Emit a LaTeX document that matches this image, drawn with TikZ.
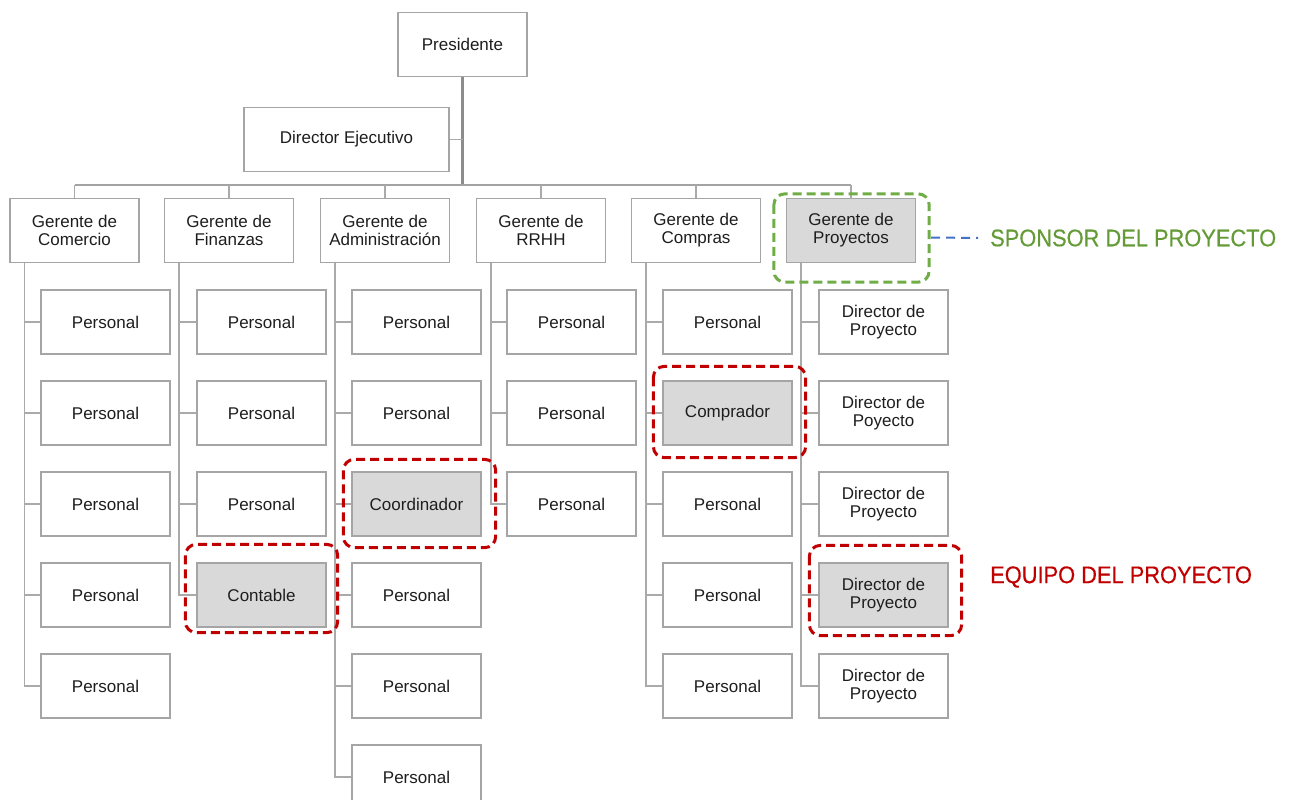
\documentclass[tikz,border=0pt]{standalone}
\usepackage{fontspec}
\usepackage{graphicx}
\setmainfont{Liberation Sans}
\newfontfamily\lblfont[FakeBold=0.5]{Liberation Sans}
\usetikzlibrary{calc}
\definecolor{boxline}{RGB}{165,165,165}
\definecolor{trunk}{RGB}{140,140,140}
\definecolor{linecol}{RGB}{170,170,170}
\definecolor{hifill}{RGB}{217,217,217}
\definecolor{redc}{RGB}{192,0,0}
\definecolor{greenc}{RGB}{112,173,71}
\definecolor{greentext}{RGB}{100,155,55}
\definecolor{bluec}{RGB}{68,114,196}
\definecolor{txt}{RGB}{30,30,30}
\begin{document}
\begin{tikzpicture}[x=1pt,y=-1pt,
  box/.style={draw=boxline, line width=1.3pt, fill=white, minimum width=129pt, minimum height=64pt,
    inner sep=0pt, align=center, text=txt, font=\fontsize{17}{18}\selectfont},
  hibox/.style={box, fill=hifill},
  trunkln/.style={draw=trunk, line width=2.8pt},
  barln/.style={draw=trunk!80, line width=2.2pt},
  ln/.style={draw=linecol, line width=1.4pt},
  redhl/.style={draw=redc, line width=3pt, dash pattern=on 9pt off 5pt, rounded corners=11pt},
  greenhl/.style={draw=greenc, line width=3pt, dash pattern=on 9pt off 5pt, rounded corners=11pt},
  bluedash/.style={draw=bluec, line width=2pt, dash pattern=on 9pt off 6pt},
  lbl/.style={anchor=west, inner sep=0pt, font=\lblfont\fontsize{24}{26}\selectfont}
]
\useasboundingbox (0,0) rectangle (1296,800);

% top
\node[box] (pres) at (462.5,44.5) {Presidente};
\node[box, minimum width=205pt] (dir) at (346.5,139.5) {Director Ejecutivo};
\coordinate (bar) at (463,185);

% managers
\node[box] (m1) at (74.5,230.5) {Gerente de\\Comercio};
\node[box] (m2) at (229,230.5) {Gerente de\\Finanzas};
\node[box] (m3) at (385,230.5) {Gerente de\\Administración};
\node[box] (m4) at (541,230.5) {Gerente de\\RRHH};
\node[box] (m5) at (696,230.5) {Gerente de\\Compras};
\node[hibox] (m6) at (851,230.5) {Gerente de\\Proyectos};

% trunk and bar
\draw[trunkln] (pres.south) -- (pres.south |- bar);
\draw[ln] (dir.east) -- (dir.east -| pres.south);
\draw[barln] (m1.north |- bar) -- (m6.north |- bar);
\foreach \m in {m1,m2,m3,m4,m5,m6}{
  \draw[ln] (\m.north) -- (\m.north |- bar);
  \coordinate (v\m) at ($(\m.south west)+(15,0)$);
}

% column 1: Comercio
\foreach \i/\y in {1/322,2/413,3/504,4/595,5/686}{
  \node[box] (a\i) at (105.5,\y) {Personal};
  \draw[ln] (vm1) |- (a\i.west);
}
% column 2: Finanzas
\foreach \i/\y in {1/322,2/413,3/504}{
  \node[box] (b\i) at (261.5,\y) {Personal};
  \draw[ln] (vm2) |- (b\i.west);
}
\node[hibox] (b4) at (261.5,595) {Contable};
\draw[ln] (vm2) |- (b4.west);
% column 3: Administracion
\foreach \i/\y in {1/322,2/413,4/595,5/686,6/777}{
  \node[box] (c\i) at (416.5,\y) {Personal};
  \draw[ln] (vm3) |- (c\i.west);
}
\node[hibox] (c3) at (416.5,504) {Coordinador};
\draw[ln] (vm3) |- (c3.west);
% column 4: RRHH
\foreach \i/\y in {1/322,2/413,3/504}{
  \node[box] (d\i) at (571.5,\y) {Personal};
  \draw[ln] (vm4) |- (d\i.west);
}
% column 5: Compras
\foreach \i/\y in {1/322,3/504,4/595,5/686}{
  \node[box] (e\i) at (727.5,\y) {Personal};
  \draw[ln] (vm5) |- (e\i.west);
}
\node[hibox] (e2) at (727.5,413) {Comprador};
\draw[ln] (vm5) |- (e2.west);
% column 6: Proyectos
\node[box] (f1) at (883.5,322) {Director de\\Proyecto};
\node[box] (f2) at (883.5,413) {Director de\\Poyecto};
\node[box] (f3) at (883.5,504) {Director de\\Proyecto};
\node[hibox] (f4) at (883.5,595) {Director de\\Proyecto};
\node[box] (f5) at (883.5,686) {Director de\\Proyecto};
\foreach \i in {1,...,5}{
  \draw[ln] (vm6) |- (f\i.west);
}

% highlights
\draw[redhl] ($(b4.north west)+(-11,-18)$) rectangle ($(b4.south east)+(11,5)$);
\draw[redhl] ($(c3.north west)+(-8,-12)$) rectangle ($(c3.south east)+(14,11)$);
\draw[redhl] ($(e2.north west)+(-9,-14)$) rectangle ($(e2.south east)+(13,12)$);
\draw[redhl] ($(f4.north west)+(-9,-17)$) rectangle ($(f4.south east)+(13,8)$);
\draw[greenhl] ($(m6.north west)+(-12,-4)$) rectangle ($(m6.south east)+(13,19)$);
\coordinate (gE) at ($(m6.east)+(15,7)$);

% labels
\node[lbl, text=greentext] (sp) at (990,238) {\scalebox{0.91}[1]{SPONSOR DEL PROYECTO}};
\node[lbl, text=redc] (eq) at (990,577) {\scalebox{0.91}[1]{EQUIPO DEL PROYECTO}};
\draw[bluedash] (gE) -- ([xshift=-12pt]sp.west);
\end{tikzpicture}
\end{document}
